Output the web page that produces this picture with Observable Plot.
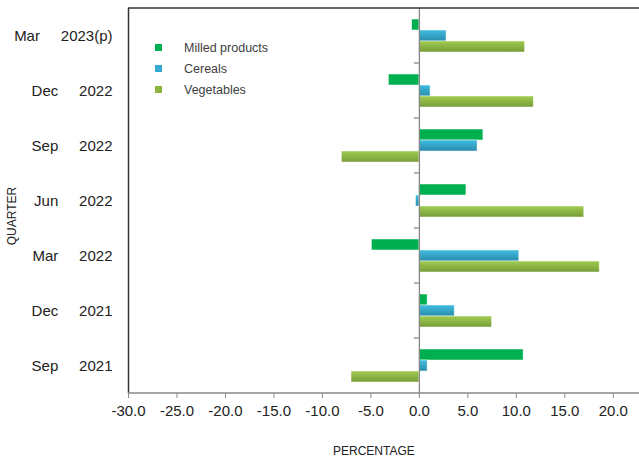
<!DOCTYPE html>
<html><head><meta charset="utf-8">
<script src="https://cdn.jsdelivr.net/npm/d3@7"></script>
<script src="https://cdn.jsdelivr.net/npm/@observablehq/plot@0.6"></script>
<style>
body{margin:0;background:#fff;}
#wrap{position:relative;width:639px;height:461px;font-family:"Liberation Sans",Arial,sans-serif;}
.lab{position:absolute;font-size:12px;color:#222;white-space:nowrap;line-height:1;}
#legend{position:absolute;left:155px;top:37px;font-size:12.5px;color:#404040;}
#legend .row{display:flex;align-items:center;height:21px;}
#legend .sw{width:7px;height:7px;margin-right:22px;display:inline-block;}
</style></head><body><div id="wrap"></div>
<script>
const quarters = ["Sep 2021","Dec 2021","Mar 2022","Jun 2022","Sep 2022","Dec 2022","Mar 2023(p)"];
const series = ["Milled products","Cereals","Vegetables"];
const milled = [10.75, 0.85, -4.9, 4.85, 6.6, -3.15, -0.75];
const cereals = [0.85, 3.65, 10.3, -0.35, 6.0, 1.15, 2.8];
const vegetables = [-7.0, 7.5, 18.6, 17.0, -8.0, 11.8, 10.9];
const xTicks = [-30,-25,-20,-15,-10,-5,0,5,10,15,20];
const barColors = ["#00B050","url(#gCer)","url(#gVeg)"];
const legendColors = ["#00B050","#33AAD0","#8BB642"];

(function(){
const values = [milled, cereals, vegetables];
const rows = quarters.flatMap((q,i) => series.map((s,j) => ({quarter:q, series:s, value:values[j][i]})));

const plot = Plot.plot({
  width:639, height:461, marginLeft:128, marginRight:0, marginTop:8, marginBottom:68,
  style:{fontFamily:"Liberation Sans, Arial, sans-serif", fontSize:"15px", color:"#222", background:"white"},
  x:{domain:[-30,22.7], ticks:xTicks, tickFormat:d => d.toFixed(1), tickSize:5, tickPadding:7, label:null},
  y:{domain:series, axis:null, paddingInner:0, paddingOuter:0.8},
  fy:{domain:[...quarters].reverse(), padding:0, label:null, tickSize:0, tickPadding:16,
      tickFormat: q => q.replace(" ", "\u00a0".repeat(5))},
  color:{domain:series, range:barColors},
  marks:[
    Plot.ruleX([-30], {stroke:"#333", strokeWidth:1.5}),
    Plot.barX(rows, {x:"value", y:"series", fy:"quarter", fill:"series", stroke:"#ffffff", strokeOpacity:0.6, strokeWidth:0.8}),
    Plot.ruleX([0], {stroke:"#888", strokeWidth:1.3})
  ]
});

const svg = d3.select(plot);
const defs = svg.insert("defs", ":first-child");
function grad(id, c0, c1){
  const g = defs.append("linearGradient").attr("id", id).attr("x1",0).attr("y1",0).attr("x2",0).attr("y2",1);
  g.append("stop").attr("offset","0%").attr("stop-color", c0);
  g.append("stop").attr("offset","100%").attr("stop-color", c1);
}
grad("gCer", "#3FBDE0", "#2A8CAC");
grad("gVeg", "#A0CC50", "#779D38");

const xs = plot.scale("x"), fys = plot.scale("fy");
const x = d3.scaleLinear(xs.domain, xs.range);
const fy = d3.scaleBand(fys.domain, fys.range).padding(0);
const x0 = x(xs.domain[0]), x1 = x(xs.domain[1]);
const yTop = fys.range[0], yBot = fys.range[1];
svg.selectAll("g[aria-label^='x-axis'] path, g[aria-label^='x-axis'] line").attr("stroke", "#888");
svg.append("line").attr("x1", x0).attr("x2", x1).attr("y1", yTop).attr("y2", yTop).attr("stroke", "#333").attr("stroke-width", 1.5);
svg.append("line").attr("x1", x0).attr("x2", x1).attr("y1", yBot).attr("y2", yBot).attr("stroke", "#888").attr("stroke-width", 1.3);
fys.domain.slice(1).forEach(q => {
  const yy = fy(q);
  svg.append("line").attr("x1", x(0) - 5).attr("x2", x(0)).attr("y1", yy).attr("y2", yy).attr("stroke", "#888").attr("stroke-width", 1.3);
});

const wrap = document.getElementById("wrap");
wrap.appendChild(plot);

const lg = document.createElement("div");
lg.id = "legend";
series.forEach((s,i) => {
  const r = document.createElement("div"); r.className = "row";
  r.innerHTML = `<span class="sw" style="background:${legendColors[i]}"></span><span>${s}</span>`;
  lg.appendChild(r);
});
wrap.appendChild(lg);

const px = document.createElement("div"); px.className = "lab"; px.textContent = "PERCENTAGE";
px.style.left = "333px"; px.style.top = "445px"; wrap.appendChild(px);
const qy = document.createElement("div"); qy.className = "lab"; qy.textContent = "QUARTER";
qy.style.left = "12px"; qy.style.top = "216px"; qy.style.transform = "translate(-50%,-50%) rotate(-90deg)"; wrap.appendChild(qy);
})();
</script></body></html>
